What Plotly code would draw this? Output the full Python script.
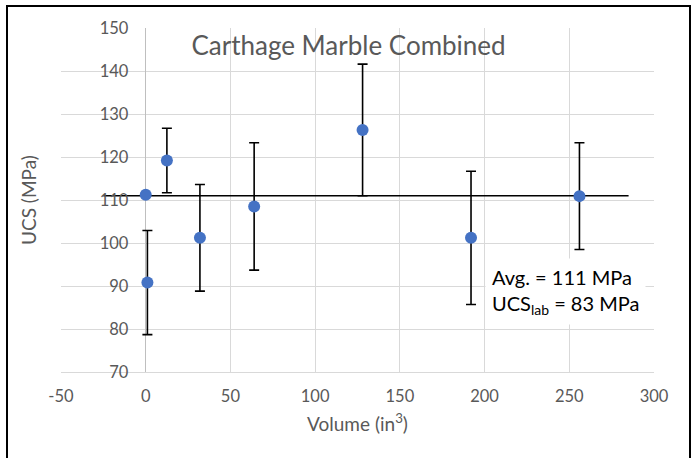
import plotly.graph_objects as go

# Specimen volumes (in^3), mean UCS (MPa) and one-sided error (MPa)
volume = [0, 1, 12.5, 32, 64, 128, 192, 256]
ucs = [111.2, 90.8, 119.2, 101.2, 108.5, 126.3, 101.2, 110.9]
ucs_err = [0, 12.1, 7.5, 12.4, 14.8, 15.3, 15.5, 12.4]

# Overall average drawn as a horizontal reference line
avg_x = [-25, 285]
avg_y = [111, 111]

x_ticks = [-50, 0, 50, 100, 150, 200, 250, 300]
y_ticks = [70, 80, 90, 100, 110, 120, 130, 140, 150]

FONT = "Lato"
GRAY = "#595959"
GRID = "#D9D9D9"

fig = go.Figure()

fig.add_trace(go.Scatter(
    x=avg_x, y=avg_y, mode="lines",
    line=dict(color="black", width=1.6),
    hoverinfo="skip", showlegend=False,
))

fig.add_trace(go.Scatter(
    x=volume, y=ucs, mode="markers",
    marker=dict(color="#4472C4", size=12),
    error_y=dict(type="data", array=ucs_err, visible=True,
                 color="black", thickness=1.6, width=5),
    showlegend=False,
))

fig.update_layout(
    width=697, height=458,
    margin=dict(l=61, r=43, t=28, b=86),
    paper_bgcolor="white", plot_bgcolor="white",
    font=dict(family=FONT, color=GRAY, size=16),
    title=dict(text="Carthage Marble Combined", x=0.5, xanchor="center",
               y=1 - 46 / 458, yanchor="middle",
               font=dict(family=FONT, size=26, color=GRAY)),
    xaxis=dict(
        range=[-50, 300], tickvals=x_ticks, ticktext=[str(v) for v in x_ticks],
        showgrid=True, gridcolor=GRID, gridwidth=1,
        zeroline=True, zerolinecolor="#BFBFBF", zerolinewidth=1,
        showline=True, linecolor=GRID, linewidth=1, mirror=False,
        ticks="outside", ticklen=9, tickcolor="rgba(0,0,0,0)",
        tickfont=dict(size=16.5, color=GRAY),
        title=dict(text="Volume (in<sup>3</sup>)", standoff=12,
                   font=dict(size=19, color=GRAY)),
    ),
    yaxis=dict(
        range=[70, 150], tickvals=y_ticks, ticktext=[str(v) for v in y_ticks],
        showgrid=True, gridcolor=GRID, gridwidth=1, zeroline=False,
        showline=False,
        anchor="free", position=50 / 350,
        ticks="outside", ticklen=14, tickcolor="rgba(0,0,0,0)",
        tickfont=dict(size=16.5, color=GRAY),
    ),
    annotations=[
        dict(text="UCS (MPa)", textangle=-90, xref="paper", yref="paper",
             x=(28 - 61) / 593, y=0.5, showarrow=False,
             xanchor="center", yanchor="middle",
             font=dict(size=19, color=GRAY)),
        dict(text="Avg. = 111 MPa<br>UCS<sub>lab</sub> = 83 MPa",
             xref="paper", yref="paper",
             x=(485 - 61) / 593, y=(372 - 291) / 344,
             xanchor="left", yanchor="middle", align="left",
             showarrow=False, bgcolor="white", borderpad=6,
             font=dict(size=20, color="black")),
    ],
    shapes=[
        dict(type="rect", xref="paper", yref="paper",
             x0=(7 - 61) / 593, x1=(690 - 61) / 593,
             y0=(372 - 475) / 344, y1=1 + (28 - 6) / 344,
             line=dict(color="black", width=2), layer="above"),
    ],
)

fig.write_html("out.html")
